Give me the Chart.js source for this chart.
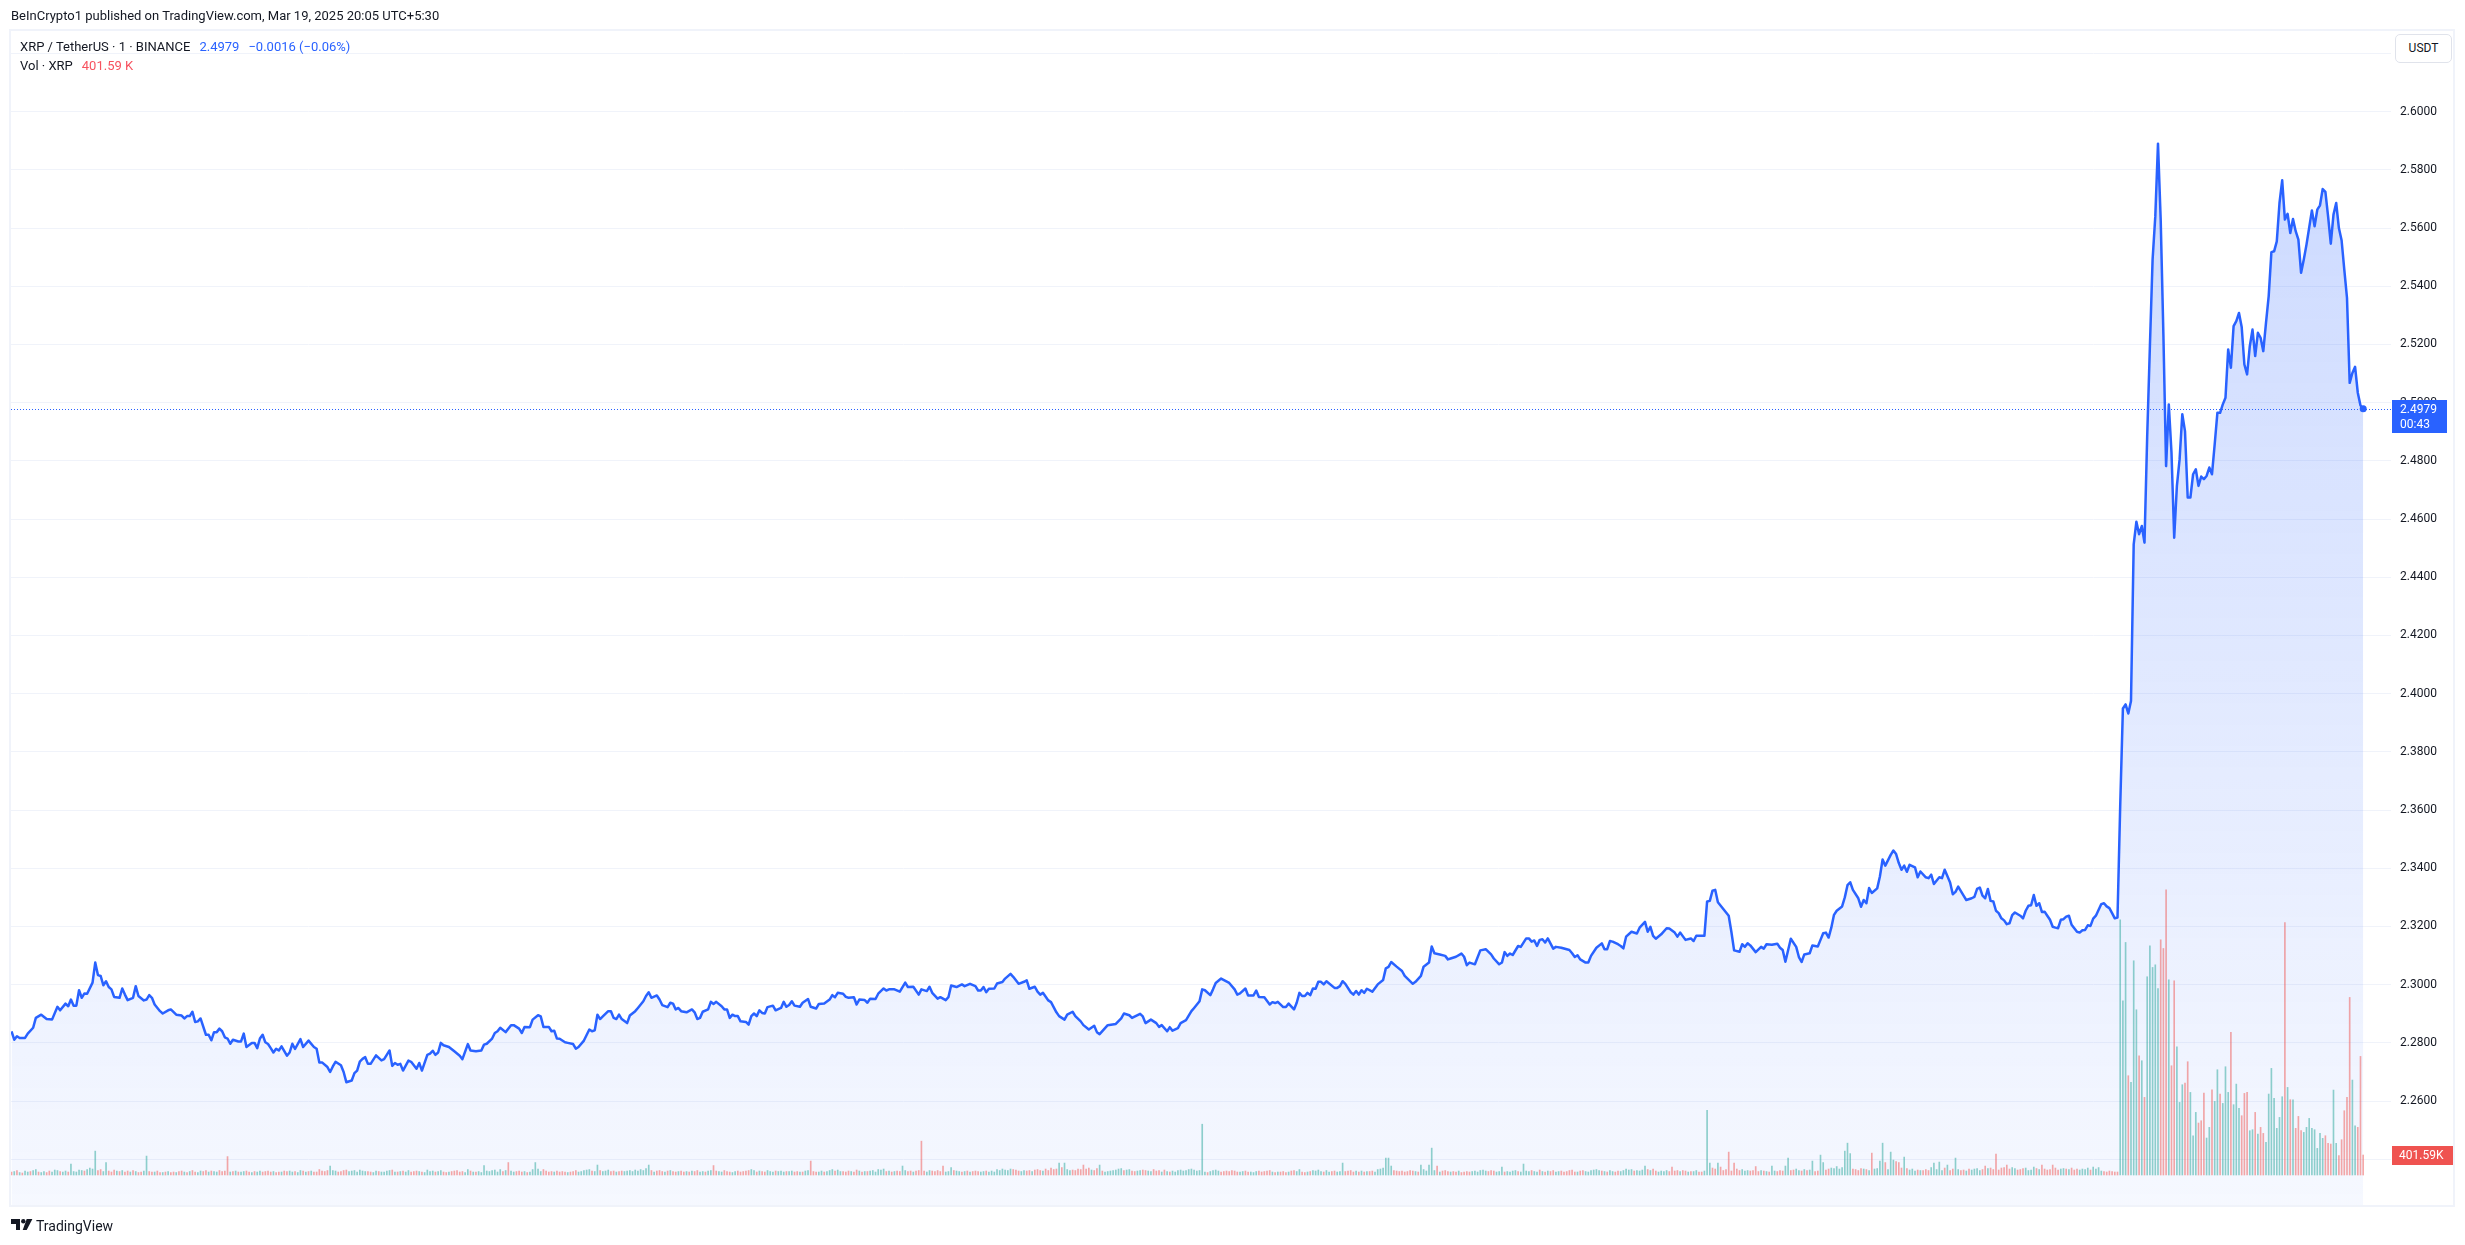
<!DOCTYPE html>
<html>
<head>
<meta charset="utf-8">
<title>XRP / TetherUS · 1 · BINANCE</title>
<script src="https://cdn.jsdelivr.net/npm/chart.js@4.4.1/dist/chart.umd.min.js"></script>
<style>
  html, body { margin: 0; padding: 0; background: #fff; }
  body { width: 2465px; height: 1245px; position: relative; overflow: hidden;
         font-family: Roboto, "Noto Sans", sans-serif; color: #131722; }
  #c { position: absolute; left: 0; top: 0; }
  .frame { position: absolute; left: 9px; top: 29px; width: 2446px; height: 1178px;
           border: 2px solid #f0f3fa; box-sizing: border-box; pointer-events: none; }
  .txt { position: absolute; white-space: nowrap; line-height: 16px; }
  #published { left: 11px; top: 8px; font-size: 13px; }
  #legend1 { left: 20px; top: 39px; font-size: 13px; }
  #legend2 { left: 20px; top: 58px; font-size: 13px; }
  .gap { margin-left: 9px; }
  .blue { color: #2962ff; }
  .red { color: #f7525f; }
  #usdt { position: absolute; left: 2395px; top: 34px; width: 57px; height: 29px; box-sizing: border-box;
          border: 1px solid #e0e3eb; border-radius: 5px; font-size: 12px; line-height: 27px;
          text-align: center; background: #fff; }
  #logo { position: absolute; left: 11px; top: 1219px; }
  #brand { left: 36px; top: 1218px; font-size: 14px; }
</style>
</head>
<body>
<canvas id="c" width="2465" height="1245"></canvas>
<div class="frame"></div>
<div class="txt" id="published">BeInCrypto1 published on TradingView.com, Mar 19, 2025 20:05 UTC+5:30</div>
<div class="txt" id="legend1">XRP / TetherUS · 1 · BINANCE<span class="blue gap">2.4979</span><span class="blue gap">−0.0016 (−0.06%)</span></div>
<div class="txt" id="legend2">Vol · XRP<span class="red gap">401.59 K</span></div>
<div id="usdt">USDT</div>
<svg id="logo" width="22" height="11" viewBox="0 0 22 11">
  <path d="M0 0H9V11H5V5H0Z" fill="#131722"/>
  <circle cx="12.3" cy="2.2" r="2.2" fill="#131722"/>
  <path d="M15.7 0H21.4L15.7 11H11.7Z" fill="#131722"/>
</svg>
<div class="txt" id="brand">TradingView</div>

<script>
// price axis labels
const priceTicks = [2.24, 2.26, 2.28, 2.30, 2.32, 2.34, 2.36, 2.38, 2.40, 2.42,
                    2.44, 2.46, 2.48, 2.50, 2.52, 2.54, 2.56, 2.58, 2.60, 2.62];

const lastPrice = 2.4979;
const lastVolume = 401.59; // K
const countdown = '00:43';

// 1 minute closes, [minute, price]
const priceTrace = [
[0,2.2840],[1,2.2811],[2,2.2823],[3,2.2817],[5,2.2817],[6,2.2832],[8,2.2852],[9,2.2886],[11,2.2897],[13,2.2882],
[15,2.2880],[17,2.2924],[18,2.2912],[20,2.2935],[21,2.2926],[22,2.2949],[23,2.2928],[24,2.2928],[25,2.2981],[26,2.2955],
[27,2.2970],[28,2.2969],[30,2.3007],[31,2.3076],[32,2.3033],[33,2.3030],[34,2.2998],[35,2.3012],[36,2.2992],[37,2.2984],
[38,2.2958],[40,2.2955],[41,2.2987],[42,2.2966],[43,2.2947],[45,2.2955],[46,2.2995],[47,2.2961],[49,2.2946],[50,2.2949],
[51,2.2964],[52,2.2955],[53,2.2932],[55,2.2909],[56,2.2901],[58,2.2912],[59,2.2915],[61,2.2897],[63,2.2894],[64,2.2884],
[65,2.2892],[66,2.2892],[67,2.2907],[68,2.2872],[69,2.2874],[70,2.2884],[72,2.2828],[73,2.2828],[74,2.2809],[75,2.2837],
[76,2.2837],[77,2.2849],[78,2.2840],[79,2.2819],[80,2.2815],[81,2.2797],[82,2.2811],[84,2.2805],[85,2.2805],[86,2.2832],
[87,2.2786],[89,2.2800],[90,2.2800],[91,2.2782],[92,2.2815],[93,2.2828],[94,2.2802],[95,2.2796],[96,2.2782],[97,2.2767],
[98,2.2780],[99,2.2774],[100,2.2788],[102,2.2756],[103,2.2767],[104,2.2797],[105,2.2779],[107,2.2813],[108,2.2786],[110,2.2808],
[112,2.2786],[113,2.2780],[114,2.2733],[115,2.2733],[117,2.2717],[118,2.2700],[119,2.2719],[120,2.2735],[122,2.2723],[123,2.2700],
[124,2.2665],[126,2.2671],[127,2.2696],[128,2.2705],[129,2.2736],[130,2.2745],[131,2.2751],[132,2.2728],[133,2.2728],[135,2.2757],
[137,2.2740],[138,2.2744],[140,2.2774],[141,2.2721],[142,2.2731],[143,2.2725],[144,2.2728],[145,2.2705],[147,2.2739],[148,2.2735],
[150,2.2711],[151,2.2731],[152,2.2705],[154,2.2759],[155,2.2763],[156,2.2773],[157,2.2759],[158,2.2767],[159,2.2800],[160,2.2792],
[162,2.2786],[164,2.2771],[166,2.2756],[167,2.2744],[169,2.2796],[170,2.2774],[172,2.2771],[174,2.2774],[175,2.2794],[176,2.2797],
[178,2.2815],[179,2.2834],[180,2.2840],[181,2.2852],[183,2.2837],[185,2.2861],[186,2.2861],[188,2.2849],[189,2.2834],[190,2.2855],
[192,2.2854],[193,2.2880],[195,2.2895],[196,2.2891],[197,2.2855],[199,2.2855],[200,2.2840],[201,2.2842],[202,2.2815],[203,2.2814],
[205,2.2802],[206,2.2800],[208,2.2796],[209,2.2780],[210,2.2786],[212,2.2808],[214,2.2846],[215,2.2840],[216,2.2843],[217,2.2897],
[218,2.2882],[219,2.2891],[221,2.2909],[222,2.2909],[223,2.2886],[224,2.2882],[225,2.2897],[226,2.2882],[228,2.2868],[229,2.2894],
[231,2.2909],[232,2.2920],[234,2.2943],[235,2.2961],[236,2.2974],[237,2.2955],[239,2.2963],[240,2.2949],[241,2.2930],[243,2.2923],
[244,2.2938],[245,2.2935],[246,2.2915],[247,2.2920],[248,2.2909],[250,2.2905],[252,2.2915],[253,2.2905],[254,2.2882],[255,2.2886],
[256,2.2907],[258,2.2915],[259,2.2941],[260,2.2934],[261,2.2941],[263,2.2926],[264,2.2915],[265,2.2915],[266,2.2886],[267,2.2897],
[268,2.2892],[269,2.2892],[270,2.2874],[272,2.2872],[273,2.2863],[274,2.2892],[275,2.2901],[276,2.2892],[277,2.2912],[278,2.2903],
[279,2.2901],[280,2.2923],[282,2.2928],[283,2.2912],[285,2.2920],[286,2.2941],[287,2.2924],[288,2.2930],[289,2.2943],[290,2.2928],
[292,2.2924],[293,2.2938],[295,2.2951],[296,2.2924],[298,2.2918],[299,2.2934],[301,2.2935],[303,2.2949],[304,2.2964],[305,2.2957],
[306,2.2972],[308,2.2969],[309,2.2958],[310,2.2955],[312,2.2957],[313,2.2932],[314,2.2949],[316,2.2947],[317,2.2938],[318,2.2952],
[320,2.2951],[321,2.2969],[323,2.2987],[324,2.2980],[325,2.2984],[327,2.2984],[329,2.2976],[331,2.3007],[332,2.2992],[334,2.2993],
[336,2.2966],[337,2.2984],[339,2.2978],[340,2.2993],[341,2.2972],[343,2.2952],[344,2.2957],[346,2.2947],[347,2.2957],[348,2.2997],
[350,2.2992],[352,2.3001],[353,2.2995],[355,2.3003],[357,2.2995],[358,2.2980],[359,2.2980],[360,2.2992],[361,2.2974],[362,2.2986],
[364,2.2987],[365,2.3004],[367,2.3009],[368,2.3021],[370,2.3037],[371,2.3027],[373,2.3003],[375,2.3010],[376,2.3015],[377,2.2986],
[379,2.2993],[380,2.2976],[381,2.2966],[382,2.2972],[384,2.2946],[385,2.2940],[387,2.2905],[388,2.2892],[390,2.2880],[391,2.2897],
[393,2.2907],[394,2.2892],[396,2.2874],[397,2.2861],[399,2.2846],[401,2.2859],[402,2.2837],[403,2.2830],[405,2.2851],[406,2.2861],
[409,2.2865],[411,2.2884],[412,2.2901],[414,2.2895],[415,2.2886],[418,2.2900],[419,2.2891],[420,2.2868],[422,2.2880],[424,2.2868],
[425,2.2855],[426,2.2861],[428,2.2840],[429,2.2854],[430,2.2842],[432,2.2851],[433,2.2868],[435,2.2878],[437,2.2909],[438,2.2920],
[440,2.2943],[441,2.2984],[442,2.2981],[444,2.2964],[445,2.2984],[446,2.3006],[448,2.3021],[451,2.3006],[453,2.2984],[454,2.2966],
[455,2.2970],[457,2.2987],[458,2.2963],[460,2.2963],[461,2.2980],[462,2.2958],[464,2.2957],[466,2.2932],[467,2.2940],[468,2.2937],
[469,2.2941],[471,2.2923],[472,2.2923],[473,2.2935],[475,2.2915],[476,2.2938],[477,2.2972],[478,2.2961],[479,2.2961],[480,2.2972],
[481,2.2964],[482,2.2987],[483,2.2986],[484,2.3010],[485,2.3010],[486,2.3001],[487,2.3012],[490,2.2989],[491,2.2989],[492,2.2995],
[493,2.3012],[494,2.3003],[496,2.2974],[497,2.2966],[498,2.2978],[499,2.2966],[500,2.2981],[501,2.2972],[502,2.2986],[504,2.2976],
[506,2.3001],[508,2.3016],[509,2.3056],[510,2.3061],[511,2.3078],[513,2.3062],[515,2.3047],[516,2.3030],[519,2.3003],[520,2.3010],
[522,2.3030],[523,2.3062],[525,2.3076],[526,2.3131],[527,2.3108],[529,2.3104],[531,2.3099],[532,2.3087],[533,2.3090],[535,2.3096],
[537,2.3107],[538,2.3096],[539,2.3067],[540,2.3076],[542,2.3070],[544,2.3118],[546,2.3122],[548,2.3104],[549,2.3090],[551,2.3070],
[552,2.3076],[553,2.3112],[554,2.3099],[555,2.3107],[556,2.3102],[558,2.3133],[559,2.3130],[561,2.3159],[562,2.3159],[563,2.3148],
[564,2.3152],[565,2.3133],[566,2.3154],[567,2.3156],[568,2.3145],[569,2.3159],[571,2.3124],[572,2.3130],[574,2.3127],[577,2.3119],
[578,2.3108],[579,2.3095],[580,2.3101],[581,2.3087],[583,2.3076],[584,2.3076],[585,2.3099],[587,2.3127],[589,2.3142],[590,2.3122],
[591,2.3122],[592,2.3150],[593,2.3148],[595,2.3139],[596,2.3133],[597,2.3125],[598,2.3165],[600,2.3182],[602,2.3176],[603,2.3196],
[605,2.3216],[606,2.3182],[607,2.3199],[608,2.3168],[609,2.3158],[611,2.3173],[613,2.3194],[614,2.3193],[616,2.3179],[617,2.3165],
[618,2.3179],[620,2.3154],[622,2.3159],[623,2.3150],[624,2.3168],[627,2.3168],[628,2.3286],[629,2.3288],[630,2.3323],[631,2.3326],
[632,2.3283],[634,2.3260],[636,2.3237],[637,2.3181],[638,2.3118],[640,2.3113],[641,2.3139],[642,2.3130],[643,2.3142],[644,2.3135],
[646,2.3112],[648,2.3130],[649,2.3124],[650,2.3139],[652,2.3137],[654,2.3141],[655,2.3127],[656,2.3119],[657,2.3079],[659,2.3158],
[661,2.3130],[662,2.3095],[663,2.3078],[664,2.3104],[666,2.3108],[667,2.3135],[669,2.3131],[670,2.3154],[671,2.3177],[672,2.3179],
[673,2.3162],[674,2.3196],[675,2.3240],[676,2.3254],[678,2.3269],[679,2.3300],[680,2.3342],[681,2.3352],[682,2.3326],[684,2.3297],
[685,2.3268],[686,2.3291],[687,2.3280],[688,2.3332],[689,2.3315],[691,2.3331],[692,2.3372],[693,2.3430],[694,2.3409],[696,2.3446],
[697,2.3461],[698,2.3449],[699,2.3418],[700,2.3395],[701,2.3409],[702,2.3388],[703,2.3412],[705,2.3403],[706,2.3369],[707,2.3389],
[709,2.3369],[710,2.3366],[711,2.3378],[712,2.3346],[714,2.3369],[715,2.3366],[716,2.3395],[718,2.3351],[719,2.3311],[720,2.3319],
[721,2.3337],[723,2.3306],[724,2.3291],[726,2.3297],[727,2.3302],[728,2.3329],[729,2.3334],[730,2.3306],[731,2.3297],[732,2.3329],
[733,2.3288],[734,2.3286],[735,2.3254],[736,2.3246],[737,2.3228],[738,2.3221],[739,2.3208],[740,2.3211],[741,2.3239],[742,2.3248],
[744,2.3237],[745,2.3228],[746,2.3254],[747,2.3271],[748,2.3273],[749,2.3308],[750,2.3271],[751,2.3280],[752,2.3250],[753,2.3251],
[754,2.3237],[755,2.3223],[756,2.3199],[757,2.3196],[758,2.3194],[759,2.3223],[760,2.3225],[761,2.3234],[762,2.3237],[763,2.3206],
[765,2.3182],[766,2.3179],[767,2.3187],[768,2.3188],[769,2.3204],[770,2.3202],[771,2.3227],[772,2.3237],[774,2.3277],[775,2.3280],
[776,2.3269],[777,2.3263],[778,2.3246],[779,2.3228],[780,2.3231],[781,2.3613],[782,2.3949],[783,2.3963],[784,2.3932],[785,2.3975],
[786,2.4513],[787,2.4591],[788,2.4548],[789,2.4576],[790,2.4519],[791,2.4885],[792,2.5194],[793,2.5492],[794,2.5640],[795,2.5890],
[796,2.5629],[797,2.5233],[798,2.4782],[799,2.4994],[800,2.4828],[801,2.4536],[802,2.4714],[803,2.4805],[804,2.4960],[805,2.4902],
[806,2.4674],[807,2.4674],[808,2.4754],[809,2.4771],[810,2.4714],[811,2.4746],[812,2.4737],[813,2.4748],[814,2.4777],[815,2.4754],
[816,2.4857],[817,2.4965],[818,2.4965],[819,2.4994],[820,2.5017],[821,2.5183],[822,2.5120],[823,2.5263],[824,2.5280],[825,2.5308],
[826,2.5260],[827,2.5131],[828,2.5097],[829,2.5194],[830,2.5251],[831,2.5160],[832,2.5240],[833,2.5223],[834,2.5177],[835,2.5274],
[836,2.5366],[837,2.5517],[838,2.5520],[839,2.5554],[840,2.5686],[841,2.5764],[842,2.5629],[843,2.5649],[844,2.5583],[845,2.5631],
[846,2.5589],[847,2.5560],[848,2.5446],[849,2.5492],[850,2.5543],[852,2.5660],[853,2.5606],[854,2.5663],[855,2.5678],[856,2.5734],
[857,2.5724],[858,2.5640],[859,2.5546],[860,2.5646],[861,2.5686],[862,2.5600],[863,2.5558],[864,2.5457],[865,2.5360],[866,2.5068],
[867,2.5102],[868,2.5123],[869,2.5034],[870,2.4990],[871,2.4979]
];

// volume per minute in K, negative = down bar (red)
const volQuietStart = 0;
const volQuiet = [
-60,70,-90,50,-40,80,60,-70,90,110,-60,50,70,-50,-80,60,100,90,-70,60,
80,-60,220,70,60,100,90,-80,110,140,120,480,-90,-110,70,250,-80,-60,-100,80,
-70,90,-60,-80,60,-90,70,-50,-60,80,380,-70,-60,60,-80,-50,50,-60,70,-50,
-60,50,-70,-80,60,-50,70,-90,-60,50,80,-70,-90,60,-80,70,60,-90,-70,-80,
-370,60,-70,80,-60,60,70,-80,-60,50,-70,60,80,-60,-70,-80,-60,70,-50,-60,
60,-80,-70,80,60,-70,50,90,-80,60,-70,80,-60,-60,-110,-80,-70,-90,180,90,
80,-60,-70,-90,-100,70,80,90,60,100,80,70,-70,-60,50,80,-70,60,60,80,
90,-100,60,-60,70,-80,60,90,-60,-70,-80,70,-60,50,100,70,80,-60,70,90,
-60,-50,60,-70,-80,-90,-60,-70,50,110,-80,60,-60,70,50,190,80,70,90,100,
60,110,-70,90,-250,80,60,-70,-80,-60,70,-50,60,110,250,120,70,-110,-80,-60,
-70,60,-80,-60,-70,-60,50,-60,-70,-90,60,70,90,100,110,-80,70,200,-90,70,
80,100,-70,-80,60,-70,-80,70,80,90,70,100,80,110,90,130,200,-90,60,-80,
-90,-70,60,-80,90,-70,-60,70,-80,-60,70,-60,80,-70,-90,60,70,-60,80,90,
-190,-80,70,60,-90,-70,-60,50,70,-80,-60,-70,-80,-90,110,90,-60,80,-70,-60,
90,70,60,-80,70,80,60,-70,70,80,-60,-70,60,-60,80,90,-280,-70,-60,60,
80,-60,70,90,110,-80,100,70,-70,-60,-80,70,-60,-100,80,-60,70,-70,80,90,
60,110,100,120,-70,80,-60,70,-80,-70,180,90,-70,-80,60,-80,-90,-680,-80,60,
90,-80,-70,-90,-70,-180,60,70,150,-90,80,70,-60,70,-80,60,-70,-80,-70,60,
70,-80,60,80,60,110,90,120,100,90,120,-110,-100,-80,70,90,-80,-90,70,-100,
-110,-90,80,-120,-90,-140,-110,-120,240,-150,240,110,90,-100,-90,-120,-110,-200,-120,-140,
100,-90,-130,200,-80,60,70,80,90,100,120,130,-90,100,110,-80,-70,80,90,-100,
-90,80,70,-110,-80,-90,60,-100,70,-60,80,60,90,100,80,90,110,120,100,80,
90,1020,60,-50,70,90,100,80,-60,-70,-80,-70,-90,-80,-60,60,70,-80,-60,60,
50,70,-80,-60,-70,-80,-90,60,-50,60,-60,-70,-50,60,-80,-90,70,110,-60,-50,
60,-70,90,80,100,70,-60,90,60,-70,-80,60,70,240,-70,-80,-90,-60,80,-60,
80,-60,70,-70,-80,60,110,120,140,340,340,180,-90,-80,-70,-80,-60,-70,-90,-80,
70,-60,200,110,80,200,540,90,-180,60,-80,-90,-70,60,-70,-60,80,-50,-60,-70,
-60,70,80,60,90,100,80,-70,-90,-80,60,70,160,-60,70,60,80,90,-70,60,
220,80,70,-90,70,60,-100,70,-60,80,-70,-90,60,70,-80,-60,-70,-90,-100,-60,
60,-80,-90,70,60,90,100,110,90,-80,70,-60,90,70,-60,-80,70,90,120,100,
110,-80,90,80,100,180,-110,90,-120,-80,60,80,70,90,-70,-160,-80,-90,70,-90,
-80,60,-70,70,90,-60,-60,80,1300,240,-140,-120,240,-160,-90,-110,-460,-80,-240,-120,
-90,110,80,90,-80,-90,-170,-70,90,-80,70,-60,180,80,-70,-90,-80,180,340,-90,
-100,120,90,-80,110,-90,100,280,-70,-80,400,250,-100,-120,140,130,170,120,150,480,
640,430,-120,-110,-90,-130,120,-110,90,-440,120,130,280,640,-250,110,460,300,-270,-250,
-140,360,-130,100,120,80,-100,90,-90,-110,-90,150,240,110,260,90,-140,200,-90,-120,
340,110,-90,-100,80,-120,100,120,130,90,-110,-180,130,-140,-110,-420,-100,-140,-150,-200,
-120,150,130,-100,-110,-130,140,90,100,160,-130,110,-200,-120,-100,-110,-200,-140,-100,120,
130,-120,110,-140,-100,-120,100,120,110,140,-100,160,120,150,80,-70,-60,-80,-70,-60,
-60
];

const volBreakoutStart = 781;
const volBreakout = [
5125,3499,4670,-1994,1860,4302,3318,-2395,2295,-1559,
3981,4603,4168,4221,3746,-4723,-4549,-5727,3920,-2194,
-3900,2576,1458,1813,-1846,-2275,1659,789,1258,-1044,
-1090,-1646,743,957,-1713,1478,2114,-1626,1438,2174,
1659,-2863,1412,1826,1338,-1191,-1639,-1659,890,910,
-1258,823,-957,-836,656,1626,2141,1539,937,1157,
1572,-5071,1759,-1512,1512,-937,-1177,-890,856,957,
1137,937,910,535,836,736,-789,-636,-622,1706,
636,-388,-709,-1291,-1559,-3566,1907,990,-957,-2382,
-401.59
];

const pricePoints = priceTrace.map(([m, p]) => ({ x: m, y: p }));
const volPoints = [];
volQuiet.forEach((v, i) => volPoints.push({ x: volQuietStart + i, y: Math.abs(v), up: v >= 0 }));
volBreakout.forEach((v, i) => volPoints.push({ x: volBreakoutStart + i, y: Math.abs(v), up: v >= 0 }));

const areaFill = (ctx) => {
  const area = ctx.chart.chartArea;
  if (!area) return 'rgba(41,98,255,0.12)';
  const g = ctx.chart.ctx.createLinearGradient(0, area.top, 0, area.bottom);
  g.addColorStop(0, 'rgba(41,98,255,0.26)');
  g.addColorStop(1, 'rgba(41,98,255,0.045)');
  return g;
};

// last price line + scale labels
const tvOverlay = {
  id: 'tvOverlay',
  afterDatasetsDraw(chart) {
    const { ctx, chartArea: a, scales } = chart;
    const y = Math.round(scales.y.getPixelForValue(lastPrice)) + 0.5;
    ctx.save();
    ctx.strokeStyle = '#2962ff';
    ctx.lineWidth = 1;
    ctx.setLineDash([1, 2]);
    ctx.beginPath();
    ctx.moveTo(a.left, y);
    ctx.lineTo(a.right, y);
    ctx.stroke();
    ctx.restore();
  },
  afterDraw(chart) {
    const { ctx, chartArea: a, scales } = chart;
    const y = Math.round(scales.y.getPixelForValue(lastPrice));
    ctx.save();
    ctx.fillStyle = '#2962ff';
    ctx.fillRect(a.right + 1, y - 9, 55, 33);
    ctx.fillStyle = '#ffffff';
    ctx.font = '12px Roboto';
    ctx.textBaseline = 'middle';
    ctx.textAlign = 'left';
    ctx.fillText(lastPrice.toFixed(4), a.right + 9, y + 1);
    ctx.fillText(countdown, a.right + 9, y + 16);

    const vy = Math.round(scales.yv.getPixelForValue(lastVolume));
    ctx.fillStyle = '#ef5350';
    ctx.fillRect(a.right + 1, vy - 9, 61, 19);
    ctx.fillStyle = '#ffffff';
    ctx.fillText('401.59K', a.right + 8, vy + 1);
    ctx.restore();
  }
};

new Chart(document.getElementById('c'), {
  data: {
    datasets: [
      {
        type: 'line',
        label: 'XRP / TetherUS',
        data: pricePoints,
        xAxisID: 'x',
        yAxisID: 'y',
        borderColor: '#2962ff',
        borderWidth: 2.5,
        borderJoinStyle: 'round',
        tension: 0,
        fill: 'start',
        backgroundColor: areaFill,
        pointRadius: (ctx) => ctx.dataIndex === pricePoints.length - 1 ? 3.5 : 0,
        pointBackgroundColor: '#2962ff',
        pointBorderWidth: 0,
        order: 1
      },
      {
        type: 'bar',
        label: 'Vol · XRP',
        data: volPoints,
        xAxisID: 'x',
        yAxisID: 'yv',
        backgroundColor: (ctx) => (ctx.raw && ctx.raw.up) ? 'rgba(38,166,154,0.5)' : 'rgba(239,83,80,0.5)',
        borderWidth: 0,
        barThickness: 1,
        order: 2
      }
    ]
  },
  options: {
    responsive: false,
    animation: false,
    events: [],
    devicePixelRatio: 1,
    layout: { autoPadding: false, padding: { left: 11, top: 31, right: 10, bottom: 40 } },
    plugins: {
      legend: { display: false },
      tooltip: { enabled: false },
      filler: { drawTime: 'beforeDatasetsDraw' }
    },
    scales: {
      x: { type: 'linear', display: false, offset: false, min: -0.2, max: 881.3 },
      y: {
        type: 'linear',
        position: 'right',
        min: 2.2243,
        max: 2.6277,
        grid: { color: '#f0f3fa', lineWidth: 1, drawTicks: false },
        border: { display: false },
        ticks: {
          autoSkip: false,
          padding: 9,
          color: '#131722',
          font: { family: 'Roboto', size: 12 },
          callback: (v) => (v > 2.61 || v < 2.25) ? '' : Number(v).toFixed(4)
        },
        afterBuildTicks: (scale) => { scale.ticks = priceTicks.map(v => ({ value: v })); },
        afterFit: (scale) => { scale.width = 64; }
      },
      yv: { type: 'linear', display: false, min: -602, max: 22972 }
    }
  },
  plugins: [tvOverlay]
});
</script>
</body>
</html>
